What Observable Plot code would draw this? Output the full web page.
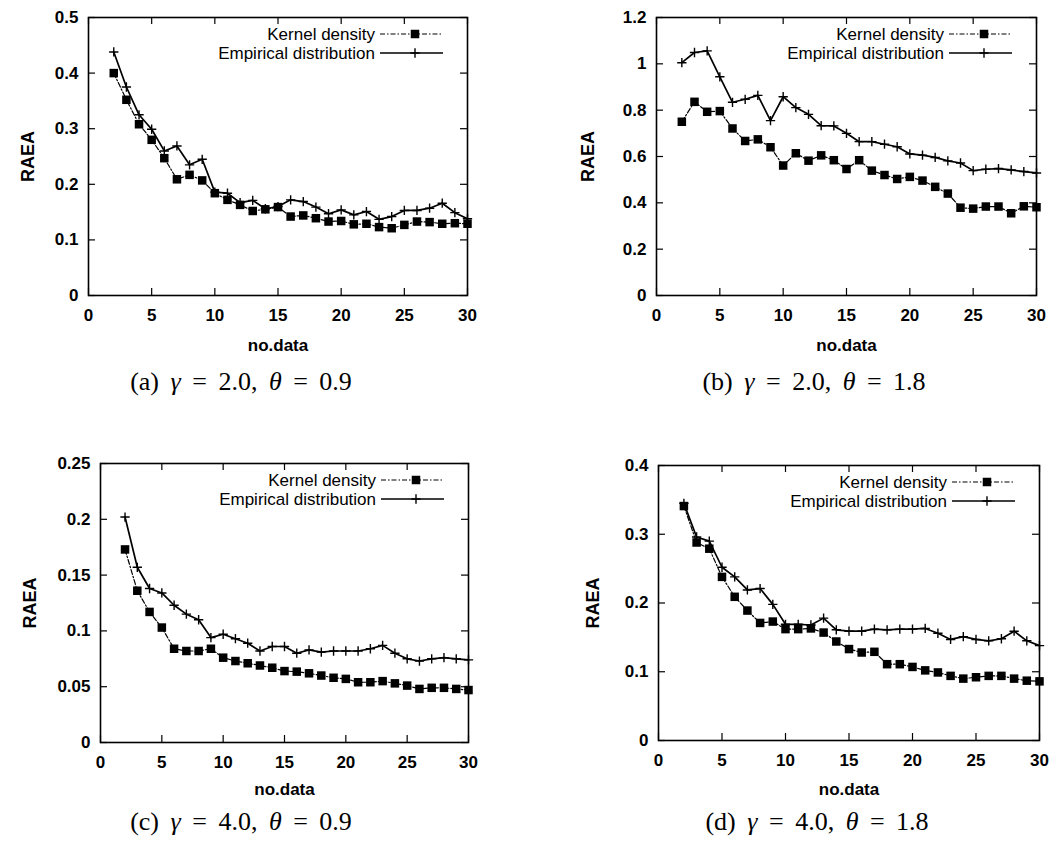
<!DOCTYPE html>
<html><head><meta charset="utf-8">
<script src="https://cdn.jsdelivr.net/npm/d3@7"></script>
<script src="https://cdn.jsdelivr.net/npm/@observablehq/plot@0.6"></script>
<style>
body{margin:0;background:#fff;}
#root{position:relative;width:1050px;height:845px;overflow:hidden;font-family:"Liberation Sans",Arial,sans-serif;}
.panel{position:absolute;}
.legend{position:absolute;pointer-events:none;}
.caption{position:absolute;font-family:"Liberation Serif","DejaVu Serif",serif;font-size:26px;line-height:30px;word-spacing:5px;white-space:nowrap;transform:translateX(-50%);color:#000;}
.caption i{font-style:italic;}
</style></head><body><div id="root"></div>
<script>
// ---------- data ----------
const nData = [2,3,4,5,6,7,8,9,10,11,12,13,14,15,16,17,18,19,20,21,22,23,24,25,26,27,28,29,30];
const xTicks = [0,5,10,15,20,25,30];
const seriesNames = ["Kernel density", "Empirical distribution"];

const kernelA = [0.400,0.352,0.308,0.280,0.247,0.209,0.217,0.207,0.184,0.172,0.163,0.152,0.155,0.159,0.142,0.144,0.139,0.133,0.134,0.128,0.129,0.123,0.121,0.127,0.133,0.132,0.129,0.130,0.129];
const empA    = [0.438,0.375,0.325,0.299,0.260,0.269,0.235,0.245,0.186,0.184,0.167,0.171,0.156,0.160,0.172,0.169,0.159,0.147,0.154,0.145,0.151,0.137,0.142,0.153,0.153,0.157,0.166,0.149,0.138];
const yTicksA = [0,0.1,0.2,0.3,0.4,0.5];

const kernelB = [0.750,0.836,0.793,0.796,0.721,0.667,0.674,0.640,0.561,0.614,0.582,0.605,0.584,0.546,0.584,0.539,0.520,0.503,0.512,0.496,0.469,0.440,0.379,0.375,0.384,0.384,0.355,0.385,0.381];
const empB    = [1.005,1.049,1.056,0.944,0.834,0.847,0.864,0.755,0.858,0.811,0.782,0.733,0.732,0.700,0.664,0.664,0.653,0.642,0.611,0.606,0.596,0.581,0.572,0.539,0.545,0.548,0.542,0.535,0.529];
const yTicksB = [0,0.2,0.4,0.6,0.8,1,1.2];

const kernelC = [0.173,0.136,0.117,0.103,0.084,0.082,0.082,0.084,0.076,0.073,0.071,0.069,0.067,0.064,0.0635,0.062,0.060,0.058,0.057,0.054,0.054,0.055,0.053,0.051,0.048,0.049,0.049,0.048,0.047];
const empC    = [0.202,0.157,0.138,0.134,0.123,0.115,0.110,0.094,0.097,0.093,0.089,0.082,0.086,0.086,0.080,0.083,0.081,0.082,0.082,0.082,0.084,0.087,0.080,0.075,0.073,0.075,0.076,0.075,0.074];
const yTicksC = [0,0.05,0.1,0.15,0.2,0.25];

const kernelD = [0.341,0.288,0.279,0.238,0.209,0.189,0.171,0.173,0.162,0.162,0.163,0.157,0.144,0.133,0.128,0.129,0.111,0.111,0.107,0.102,0.099,0.094,0.090,0.092,0.094,0.094,0.090,0.087,0.086];
const empD    = [0.345,0.296,0.290,0.252,0.238,0.219,0.221,0.198,0.169,0.169,0.168,0.178,0.161,0.159,0.159,0.162,0.161,0.162,0.162,0.163,0.156,0.147,0.151,0.147,0.145,0.148,0.159,0.145,0.138];
const yTicksD = [0,0.1,0.2,0.3,0.4];

const panelLetters = ["a","b","c","d"];
const gammaVals = ["2.0","2.0","4.0","4.0"];
const thetaVals = ["0.9","1.8","0.9","1.8"];

// ---------- layout ----------
const panels = [
  {kernel:kernelA, emp:empA, yTicks:yTicksA, left:0,   top:0,   width:525, height:365, mL:88,  mR:58, mT:17, mB:70, ylabDx:-60, xlabDy:50, capX:241, capY:367},
  {kernel:kernelB, emp:empB, yTicks:yTicksB, left:525, top:0,   width:525, height:365, mL:131, mR:14, mT:17, mB:70, ylabDx:-68, xlabDy:50, capX:814, capY:367},
  {kernel:kernelC, emp:empC, yTicks:yTicksC, left:0,   top:440, width:525, height:365, mL:100, mR:57, mT:23, mB:63, ylabDx:-70, xlabDy:47, capX:241, capY:807},
  {kernel:kernelD, emp:empD, yTicks:yTicksD, left:525, top:440, width:525, height:365, mL:133, mR:11, mT:25, mB:65, ylabDx:-65, xlabDy:49, capX:817, capY:807}
];

const root = document.getElementById("root");
const DASH = "5,2,1.5,2";
const SQ_R = 4.8, PLUS_R = 3.1;

panels.forEach((p, k) => {
  const rows = nData.map((n, i) => ({n, kernel: p.kernel[i], emp: p.emp[i]}));
  const fw = p.width - p.mL - p.mR;
  const fh = p.height - p.mT - p.mB;
  const ymax = p.yTicks[p.yTicks.length - 1];
  const chart = Plot.plot({
    width: p.width, height: p.height,
    marginLeft: p.mL, marginRight: p.mR, marginTop: p.mT, marginBottom: p.mB,
    style: {background: "transparent", color: "black", fontFamily: "'Liberation Sans', Arial, sans-serif", fontSize: "17px", overflow: "visible"},
    x: {domain: [0, 30], ticks: xTicks, tickFormat: d => String(d), label: null, axis: null},
    y: {domain: [0, ymax], ticks: p.yTicks, tickFormat: d => String(d), label: null, axis: null},
    marks: [
      Plot.axisX(xTicks, {anchor: "bottom", tickSize: 0, tickPadding: 13, fontWeight: "bold", fontSize: 17, label: null, tickFormat: d => String(d)}),
      Plot.axisY(p.yTicks, {anchor: "left", tickSize: 0, tickPadding: 10, fontWeight: "bold", fontSize: 17, label: null, tickFormat: d => String(d)}),
      Plot.tickX(xTicks, {x: d => d, insetTop: fh - 7, stroke: "black", strokeWidth: 1.2}),
      Plot.tickX(xTicks, {x: d => d, insetBottom: fh - 7, stroke: "black", strokeWidth: 1.2}),
      Plot.tickY(p.yTicks, {y: d => d, insetRight: fw - 7, stroke: "black", strokeWidth: 1.2}),
      Plot.tickY(p.yTicks, {y: d => d, insetLeft: fw - 7, stroke: "black", strokeWidth: 1.2}),
      Plot.frame({stroke: "black", strokeWidth: 1.6}),
      Plot.line(rows, {x: "n", y: "kernel", stroke: "black", strokeWidth: 1.2, strokeDasharray: DASH}),
      Plot.dot(rows, {x: "n", y: "kernel", symbol: "square", r: SQ_R, fill: "black", stroke: "none"}),
      Plot.line(rows, {x: "n", y: "emp", stroke: "black", strokeWidth: 1.7}),
      Plot.dot(rows, {x: "n", y: "emp", symbol: "plus", r: PLUS_R, fill: "none", stroke: "black", strokeWidth: 1.4}),
      Plot.text(["RAEA"], {text: d => d, frameAnchor: "left", dx: p.ylabDx, rotate: -90, textAnchor: "middle", lineAnchor: "middle", fontWeight: "bold", fontSize: 18}),
      Plot.text(["no.data"], {text: d => d, frameAnchor: "bottom", dy: p.xlabDy, textAnchor: "middle", lineAnchor: "middle", fontWeight: "bold", fontSize: 17, fontFamily: "'Liberation Sans Narrow', 'Liberation Sans', Arial, sans-serif"})
    ]
  });
  const wrap = document.createElement("div");
  wrap.className = "panel";
  wrap.style.left = p.left + "px";
  wrap.style.top = p.top + "px";
  wrap.appendChild(chart);
  root.appendChild(wrap);

  // legend (inside the frame, top right)
  const fr = p.mL + fw;
  const leg = d3.create("svg").attr("class", "legend")
    .attr("width", p.width).attr("height", p.height)
    .style("left", p.left + "px").style("top", p.top + "px");
  const rowsY = [p.mT + 17, p.mT + 36];
  seriesNames.forEach((name, j) => {
    const y = rowsY[j];
    leg.append("text").attr("x", fr - 92).attr("y", y).attr("dy", "0.35em")
      .attr("text-anchor", "end").attr("font-size", 17)
      .attr("font-family", "'Liberation Sans', Arial, sans-serif").text(name);
    leg.append("line").attr("x1", fr - 87).attr("x2", fr - 24).attr("y1", y).attr("y2", y)
      .attr("stroke", "black").attr("stroke-width", j === 0 ? 1.2 : 1.7)
      .attr("stroke-dasharray", j === 0 ? DASH : null);
    const sym = j === 0 ? d3.symbolSquare : d3.symbolPlus;
    const r = j === 0 ? SQ_R : PLUS_R;
    leg.append("path").attr("transform", `translate(${fr - 52},${y})`)
      .attr("d", d3.symbol(sym, Math.PI * r * r)())
      .attr("fill", j === 0 ? "black" : "none").attr("stroke", j === 0 ? "none" : "black").attr("stroke-width", 1.4);
  });
  root.appendChild(leg.node());

  // caption
  const cap = document.createElement("div");
  cap.className = "caption";
  cap.style.left = p.capX + "px";
  cap.style.top = p.capY + "px";
  cap.innerHTML = `(${panelLetters[k]}) <i>γ</i> = ${gammaVals[k]}, <i>θ</i> = ${thetaVals[k]}`;
  root.appendChild(cap);
});
</script>
</body></html>
